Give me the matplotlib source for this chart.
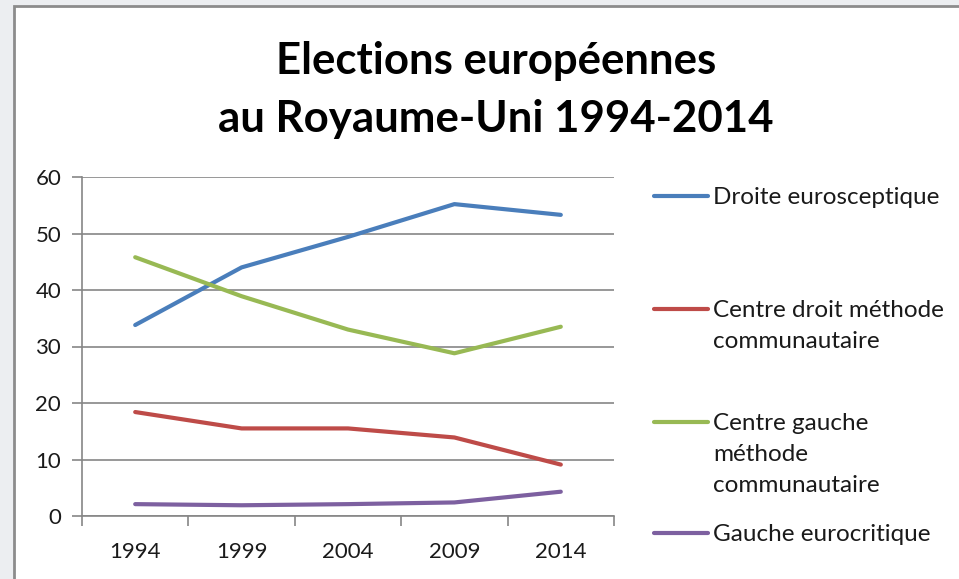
import matplotlib
matplotlib.use("Agg")
import matplotlib.pyplot as plt
from matplotlib.lines import Line2D
from matplotlib.patches import Rectangle

# data
years = ["1994", "1999", "2004", "2009", "2014"]
droite_eurosceptique = [33.8, 44.0, 49.4, 55.2, 53.3]
centre_droit = [18.4, 15.5, 15.5, 13.9, 9.1]
centre_gauche = [45.8, 38.9, 33.0, 28.8, 33.5]
gauche_eurocritique = [2.1, 1.9, 2.1, 2.4, 4.3]

series_labels = [
    "Droite eurosceptique",
    "Centre droit méthode\ncommunautaire",
    "Centre gauche\nméthode\ncommunautaire",
    "Gauche eurocritique",
]
series_values = [droite_eurosceptique, centre_droit, centre_gauche, gauche_eurocritique]
COLOURS = ["#4A7EBB", "#BE4B48", "#98B954", "#7D60A0"]

FONT = "Lato"
W, H = 959, 579

fig = plt.figure(figsize=(W / 100, H / 100), dpi=100, facecolor="#eceef1")

# white chart frame like the Excel chart object
frame = Rectangle((14 / W, -0.05), 1.0, 1.05 - 6 / H, transform=fig.transFigure,
                  facecolor="white", edgecolor="#8c8c8c", linewidth=2.0, zorder=-5)
fig.patches.append(frame)

ax = fig.add_axes([82 / W, 1 - 516 / H, (614 - 82) / W, (516 - 177) / H])
ax.set_facecolor("none")
ax.set_zorder(2)

x = list(range(len(years)))
for vals, col in zip(series_values, COLOURS):
    ax.plot(x, vals, color=col, linewidth=3.0, solid_capstyle="round",
            solid_joinstyle="round", zorder=3)

ax.set_xlim(-0.5, len(years) - 0.5)
ax.set_ylim(0, 60)
ax.set_yticks(range(0, 61, 10))
ax.set_xticks(x)
ax.set_xticklabels(years)
ax.set_xticks([i - 0.5 for i in range(len(years) + 1)], minor=True)
ax.tick_params(axis="x", which="major", length=0, pad=19, labelsize=16, labelcolor="#1a1a1a")
ax.tick_params(axis="x", which="minor", length=7, width=1.2, color="#868686", direction="out")
ax.tick_params(axis="y", length=7, width=1.2, color="#868686", pad=8, labelsize=16,
               labelcolor="#1a1a1a")
for lab in ax.get_xticklabels() + ax.get_yticklabels():
    lab.set_family(FONT)

ax.grid(axis="y", color="#868686", linewidth=1.2)
ax.set_axisbelow(True)
for side in ["top", "right"]:
    ax.spines[side].set_visible(False)
ax.spines["left"].set_color("#868686")
ax.spines["bottom"].set_color("#868686")
ax.spines["left"].set_linewidth(1.2)
ax.spines["bottom"].set_linewidth(1.2)

fig.text(496 / W, 1 - 90 / H, "Elections européennes\nau Royaume-Uni 1994-2014",
         ha="center", va="center", fontsize=31.5, fontweight="bold", family=FONT,
         linespacing=1.55, color="black")

# legend drawn by hand so each key sits on the first line of its label
legend_y = [196, 309, 422, 533]
for lab, col, yy in zip(series_labels, COLOURS, legend_y):
    yf = 1 - yy / H
    fig.add_artist(Line2D([654 / W, 708 / W], [yf, yf], transform=fig.transFigure,
                          color=col, linewidth=3.0, solid_capstyle="round"))
    fig.text(713 / W, yf + 9 / H, lab, ha="left", va="top", fontsize=17.5,
             family=FONT, color="#1a1a1a", linespacing=1.6)

fig.savefig("out.png", dpi=100, facecolor=fig.get_facecolor())
